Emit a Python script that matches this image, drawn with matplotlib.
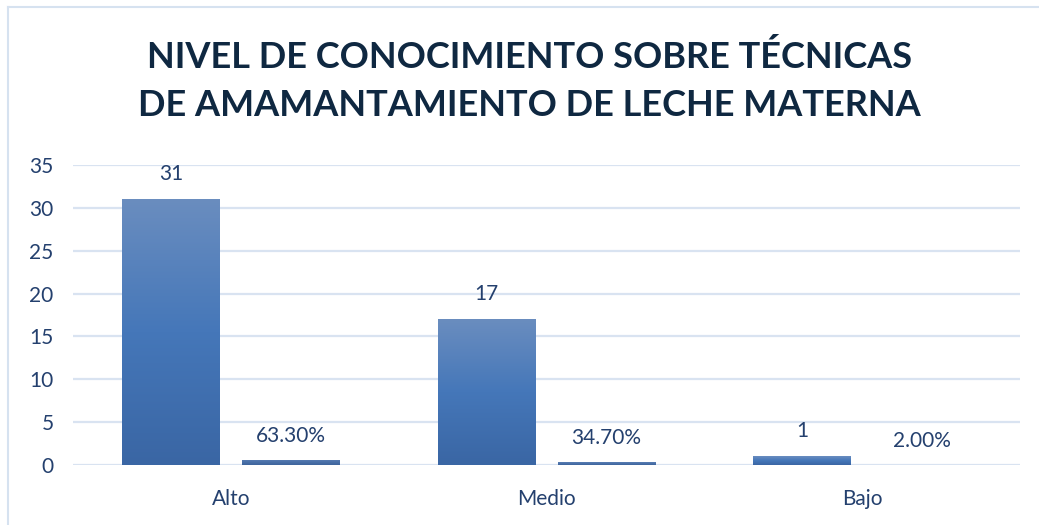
import numpy as np
import matplotlib.pyplot as plt
from matplotlib.colors import LinearSegmentedColormap

categories = ["Alto", "Medio", "Bajo"]
counts = [31, 17, 1]
percents = [0.633, 0.347, 0.02]
count_labels = ["31", "17", "1"]
pct_labels = ["63.30%", "34.70%", "2.00%"]

title = "NIVEL DE CONOCIMIENTO SOBRE TÉCNICAS\nDE AMAMANTAMIENTO DE LECHE MATERNA"
text_color = "#24406e"

plt.rcParams['font.family'] = ['Lato', 'DejaVu Sans']

fig = plt.figure(figsize=(10.39, 5.25), dpi=100)
ax = fig.add_axes([0.0703, 0.1143, 0.9114, 0.5714])

# light chart border (left + top)
fig.add_artist(plt.Line2D([8 / 1039, 8 / 1039], [0, 1 - 7 / 525], transform=fig.transFigure,
                          color="#d6e2f0", lw=1.5))
fig.add_artist(plt.Line2D([8 / 1039, 1], [1 - 7 / 525, 1 - 7 / 525], transform=fig.transFigure,
                          color="#d6e2f0", lw=1.5))

x = np.arange(len(categories))
width = 0.31
offset = 0.19

cmap_count = LinearSegmentedColormap.from_list("c", ["#3a66a4", "#4577b9", "#6a8dbf"])
cmap_pct = LinearSegmentedColormap.from_list("p", ["#3d649c", "#4a70a8", "#5a7fb4"])
grad = np.linspace(0, 1, 256).reshape(-1, 1)


def gradient_bars(xs, vals, cmap):
    bars = ax.bar(xs, vals, width, color="none", edgecolor="none", zorder=3)
    for b in bars:
        x0, y0 = b.get_x(), b.get_y()
        w, h = b.get_width(), b.get_height()
        im = ax.imshow(grad, cmap=cmap, origin="lower", aspect="auto",
                       extent=[x0, x0 + w, y0, y0 + h], zorder=3)
        im.set_clip_path(b)
    return bars


gradient_bars(x - offset, counts, cmap_count)
gradient_bars(x + offset, percents, cmap_pct)

for xi, v, lab in zip(x - offset, counts, count_labels):
    ax.text(xi, v + 1.8, lab, ha="center", va="bottom", fontsize=15, color=text_color)
for xi, v, lab in zip(x + offset, percents, pct_labels):
    ax.text(xi, v + 1.6, lab, ha="center", va="bottom", fontsize=15, color=text_color)

ax.set_xlim(-0.5, 2.5)
ax.set_ylim(0, 35)
ax.set_yticks(range(0, 36, 5))
ax.set_xticks(x)
ax.set_xticklabels(categories)
ax.grid(axis="y", color="#d9e3f1", lw=1.6, zorder=0)
ax.set_axisbelow(True)
for s in ax.spines.values():
    s.set_visible(False)
ax.tick_params(length=0, labelsize=15, colors=text_color)
ax.tick_params(axis="y", pad=14)
ax.tick_params(axis="x", pad=17)

fig.text(0.5 + 10 / 1039, 1 - 81 / 525, title, ha="center", va="center", fontsize=26,
         fontweight="bold", color="#0f2841", linespacing=1.55)

fig.savefig("out.png", dpi=100)
